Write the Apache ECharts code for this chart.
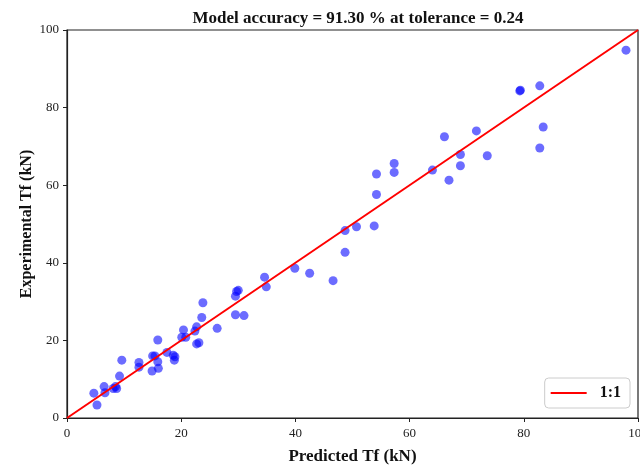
<!DOCTYPE html>
<html>
<head>
<meta charset="utf-8">
<script src="https://cdn.jsdelivr.net/npm/echarts@6/dist/echarts.min.js"></script>
<style>html,body{margin:0;padding:0;background:#fff}#c{width:640px;height:468px}</style>
</head>
<body>
<div id="c"></div>
<script>
const predicted = [4.7,5.25,6.5,6.65,8.1,8.7,8.5,9.2,9.6,12.6,12.6,14.9,15.0,15.4,15.9,15.9,16.0,17.5,18.6,18.8,18.9,20.4,20.1,20.8,22.4,22.7,22.7,23.1,23.6,23.8,26.3,29.5,29.7,30.0,29.5,31.0,34.6,34.9,39.9,42.5,46.6,48.7,48.7,50.7,53.8,54.2,54.2,57.3,57.3,64.0,66.1,66.9,68.9,68.9,71.7,73.6,79.3,79.4,82.8,83.4,82.8,97.9];
const experimental = [6.4,3.35,8.1,6.5,7.6,7.6,8.1,10.8,14.9,14.3,13.1,12.1,16.0,16.0,20.1,14.5,12.8,16.9,16.2,14.9,15.8,22.7,20.8,20.8,22.4,23.5,19.1,19.4,25.9,29.7,23.1,31.4,32.6,32.9,26.6,26.4,36.3,33.8,38.6,37.3,35.4,48.3,42.7,49.3,49.5,57.6,62.9,65.6,63.3,63.9,72.5,61.3,67.9,65.0,74.0,67.6,84.3,84.5,85.6,75.0,69.6,94.8];
const refLine = [[0,0],[100,100]];
const axisTicks = [0,20,40,60,80,100];
const titleText = 'Model accuracy = 91.30 % at tolerance = 0.24';

const font = '"Liberation Serif", "DejaVu Serif", serif';
const chart = echarts.init(document.getElementById('c'), null, {renderer:'canvas'});
chart.setOption({
  animation:false,
  backgroundColor:'#fff',
  title:{text:titleText,left:353,top:5,textAlign:'center',
    textStyle:{fontFamily:font,fontWeight:'bold',fontSize:17,color:'#111'}},
  grid:{left:67,right:2,top:30,bottom:50,containLabel:false,outerBoundsMode:'none',
    show:true,borderColor:'#222',borderWidth:1.2,backgroundColor:'transparent'},
  legend:{data:[{name:'1:1',icon:'rect'}],right:10,bottom:60,orient:'horizontal',
    itemWidth:36,itemHeight:2,itemGap:10,padding:[7,9,7,6],
    borderColor:'#ccc',borderWidth:1,borderRadius:4,backgroundColor:'#fff',
    textStyle:{fontFamily:font,fontWeight:'bold',fontSize:16,color:'#111',padding:[0,0,0,8]}},
  xAxis:{type:'value',min:axisTicks[0],max:axisTicks[axisTicks.length-1],interval:20,
    name:'Predicted Tf (kN)',nameLocation:'middle',nameGap:30,
    nameTextStyle:{fontFamily:font,fontWeight:'bold',fontSize:17,color:'#111'},
    axisLine:{show:true,lineStyle:{color:'#222',width:1.2}},
    axisTick:{show:true,length:4,lineStyle:{color:'#222'}},
    axisLabel:{fontFamily:font,fontSize:13,color:'#222',margin:9},
    splitLine:{show:false}},
  yAxis:{type:'value',min:axisTicks[0],max:axisTicks[axisTicks.length-1],interval:20,
    name:'Experimental Tf (kN)',nameLocation:'middle',nameGap:32,nameMoveOverlap:false,
    nameTextStyle:{fontFamily:font,fontWeight:'bold',fontSize:16,color:'#111'},
    axisLine:{show:true,lineStyle:{color:'#222',width:1.2}},
    axisTick:{show:true,length:4,lineStyle:{color:'#222'}},
    axisLabel:{fontFamily:font,fontSize:13,color:'#222',margin:8},
    splitLine:{show:false}},
  series:[
    {type:'scatter',name:'data',symbolSize:9,
      itemStyle:{color:'rgba(0,0,255,0.72)'},
      data:predicted.map((p,i)=>[p,experimental[i]]),z:2},
    {type:'line',name:'1:1',data:refLine,symbol:'none',
      lineStyle:{color:'#ff0000',width:2},itemStyle:{color:'#ff0000'},z:3}
  ]
});
</script>
</body>
</html>
